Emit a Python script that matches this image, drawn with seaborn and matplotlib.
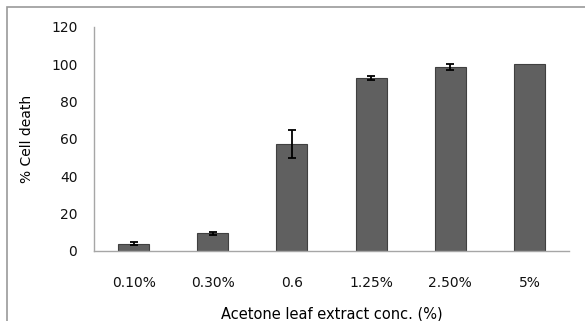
import matplotlib
matplotlib.use("Agg")
import matplotlib.pyplot as plt
import seaborn as sns
import pandas as pd
import numpy as np
from matplotlib.patches import Rectangle

categories = ["0.10%", "0.30%", "0.6", "1.25%", "2.50%", "5%"]
cell_death = [4.0, 9.5, 57.5, 92.5, 98.5, 100.0]
errors = [1.0, 0.8, 7.5, 1.0, 1.5, 0.0]
y_ticks = [0, 20, 40, 60, 80, 100, 120]

sns.set_theme(style="white")
plt.rcParams["font.family"] = ["DejaVu Sans"]

fig = plt.figure(figsize=(5.85, 3.21), dpi=100)
ax = fig.add_axes([94/585, 1-251/321, (569-94)/585, (251-27)/321])

df = pd.DataFrame({"conc": categories, "death": cell_death})
sns.barplot(data=df, x="conc", y="death", ax=ax, color="#606060",
            width=0.39, edgecolor="#404040", linewidth=0.8, saturation=1)

x_pos = np.arange(len(categories))
err = np.array(errors)
mask = err > 0
ax.errorbar(x_pos[mask], np.array(cell_death)[mask], yerr=err[mask], fmt="none",
            ecolor="black", elinewidth=1.3, capsize=3.2, capthick=1.3, zorder=5)

ax.set_ylim(0, 120)
ax.set_yticks(y_ticks)
ax.set_xlim(-0.5, len(categories) - 0.5)
ax.set_xticks(np.arange(-0.5, len(categories)), minor=True)

for s in ["top", "right"]:
    ax.spines[s].set_visible(False)
for s in ["left", "bottom"]:
    ax.spines[s].set_color("#a6a6a6")
    ax.spines[s].set_linewidth(1.0)

ax.tick_params(axis="x", which="major", length=0, pad=18, labelsize=10, colors="#111111")
ax.tick_params(axis="x", which="minor", length=5, width=1.0, color="#a6a6a6", direction="out")
ax.tick_params(axis="y", which="major", length=0, pad=12, labelsize=10, colors="#111111")

ax.set_xlabel("Acetone leaf extract conc. (%)", fontsize=10.5, labelpad=12, color="black")
ax.set_ylabel("% Cell death", fontsize=10, labelpad=12, color="black")

fig.patches.append(Rectangle((7/585, -0.1), 1.2, 1-7/321+0.1, transform=fig.transFigure,
                             fill=False, edgecolor="#9a9a9a", linewidth=1.2))

fig.savefig("out.png", dpi=100)
